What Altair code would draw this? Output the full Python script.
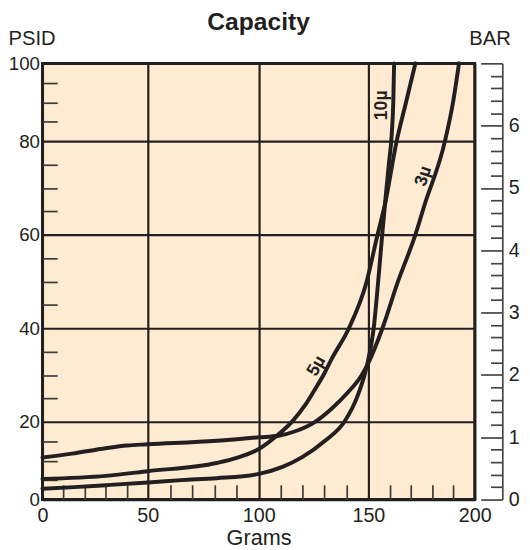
import altair as alt
import pandas as pd

INK = "#231f20"
BG = "#feebd1"
FONT = "Liberation Sans"

# ---- data ----
g_10 = [0, 15, 30, 50, 65, 81, 100, 110.8, 119.8, 130.2, 139.2, 145.2, 149, 152.5, 154.6, 156.5, 158.1, 159.6, 161.0, 161.7, 162.1]
p_10 = [2.8, 3.2, 3.7, 4.4, 5.0, 5.5, 6.6, 8.4, 10.9, 15.1, 20.1, 25.7, 31.4, 40, 50, 60, 68, 75, 82, 90, 100]

g_5 = [0, 30, 50, 81, 90, 100, 109, 115.3, 121.2, 125.7, 130.2, 133.2, 141.1, 149, 154.3, 157.8, 163.3, 167.7, 172.1]
p_5 = [5.3, 6.1, 7.3, 9.4, 10.7, 13.0, 16.8, 20.1, 23.6, 27, 30.6, 33.4, 40, 49.6, 60, 66.5, 80, 90, 100]

g_3 = [0, 14, 30, 40, 50, 81, 100, 109, 116.3, 125.7, 133.2, 140.7, 146.7, 150, 156.6, 163.6, 172.1, 176.5, 186, 189.8, 192.6]
p_3 = [10.8, 11.8, 13.2, 13.9, 14.2, 15.1, 16.0, 16.4, 17.5, 20, 22.8, 26.3, 29.8, 32.6, 40, 49.6, 60, 66.5, 80, 90, 100]

label_text = ["10µ", "3µ", "5µ"]
label_g = [156.5, 176.0, 126.4]
label_p = [89.2, 72.5, 31.9]
label_angle = [270, 288, 300]

x_major = [0, 50, 100, 150, 200]
y_major = [0, 20, 40, 60, 80, 100]
x_minor = [10, 20, 30, 40, 60, 70, 80, 90, 110, 120, 130, 140, 160, 170, 180, 190]
y_minor = [5, 10, 15, 25, 30, 35, 45, 50, 55, 65, 70, 75, 85, 90, 95]
bar_major = [0, 1, 2, 3, 4, 5, 6, 7]
bar_minor = [0.2, 0.4, 0.6, 0.8, 1.2, 1.4, 1.6, 1.8, 2.2, 2.4, 2.6, 2.8,
             3.2, 3.4, 3.6, 3.8, 4.2, 4.4, 4.6, 4.8, 5.2, 5.4, 5.6, 5.8,
             6.2, 6.4, 6.6, 6.8]

# ---- tables ----
curves_df = pd.concat([
    pd.DataFrame({"g": g_10, "p": p_10, "s": "10µ"}),
    pd.DataFrame({"g": g_5, "p": p_5, "s": "5µ"}),
    pd.DataFrame({"g": g_3, "p": p_3, "s": "3µ"}),
], ignore_index=True)
labels_df = pd.DataFrame({"g": label_g, "p": label_p, "t": label_text, "a": label_angle})
bar_df = pd.DataFrame({"b": bar_major})

W, H = 439, 443
xs = alt.Scale(domain=[0, 50, 100, 150, 200], range=[0, 107, 219.7, 331, W], nice=False, zero=False)
ys = alt.Scale(domain=[0, 20, 80, 100], range=[H, 364, 79, 0], nice=False, zero=False)
bs = alt.Scale(domain=[0, 7], range=[H, 0], nice=False, zero=False)

curves = alt.Chart(curves_df).mark_line(
    color=INK, strokeWidth=4, interpolate="monotone", strokeCap="round"
).encode(
    x=alt.X("g:Q", scale=xs, axis=alt.Axis(
        orient="bottom", values=x_major, grid=True, gridColor=INK, gridWidth=2.2, gridOpacity=1,
        ticks=False, domain=False, labelFontSize=20, labelPadding=6, labelFlush=False,
        title="Grams", titleFontSize=22, titleFontWeight="normal", titlePadding=3)),
    y=alt.Y("p:Q", scale=ys, axis=alt.Axis(
        orient="left", values=y_major, grid=True, gridColor=INK, gridWidth=2.2, gridOpacity=1,
        ticks=False, domain=False, labelFontSize=19, labelPadding=3, labelFlush=False,
        title="PSID", titleAngle=0, titleAlign="left", titleBaseline="alphabetic",
        titleX=-35, titleY=-19, titleFontSize=20.5, titleFontWeight="normal")),
    detail="s:N",
)

minor = alt.Chart(curves_df).mark_point(opacity=0).encode(
    x=alt.X("g:Q", scale=xs, axis=alt.Axis(
        orient="bottom", offset=-15, tickSize=15, values=x_minor, labels=False, domain=False,
        grid=False, tickColor="#3a3a3a", tickWidth=1.7, title=None)),
    y=alt.Y("p:Q", scale=ys, axis=alt.Axis(
        orient="left", offset=-15, tickSize=15, values=y_minor, labels=False, domain=False,
        grid=False, tickColor="#3a3a3a", tickWidth=1.7, title=None)),
)

labels = alt.Chart(labels_df).mark_text(
    font=FONT, fontWeight="bold", fontSize=18, color=INK, align="center", baseline="middle"
).encode(
    x=alt.X("g:Q", scale=xs, axis=None),
    y=alt.Y("p:Q", scale=ys, axis=None),
    text="t:N",
    angle=alt.Angle("a:Q", scale=None),
)

bar_major_layer = alt.Chart(bar_df).mark_point(opacity=0).encode(
    x=alt.value(0),
    y=alt.Y("b:Q", scale=bs, axis=alt.Axis(
        orient="right", offset=6, tickSize=22, tickWidth=1.7, tickColor="#444444",
        values=bar_major, labelExpr="datum.value == 7 ? '' : datum.label",
        labelPadding=6, labelFontSize=20, labelFlush=False, domain=False, grid=False,
        title="BAR", titleAngle=0, titleAlign="left", titleBaseline="alphabetic",
        titleX=-12, titleY=-19, titleFontSize=20.5, titleFontWeight="normal")),
)

bar_minor_layer = alt.Chart(bar_df).mark_point(opacity=0).encode(
    x=alt.value(0),
    y=alt.Y("b:Q", scale=bs, axis=alt.Axis(
        orient="right", offset=16, tickSize=12, tickWidth=1.7, tickColor="#444444",
        values=bar_minor, labels=False, domain=False, grid=False, title=None)),
)

bar_domain_layer = alt.Chart(bar_df).mark_point(opacity=0).encode(
    x=alt.value(0),
    y=alt.Y("b:Q", scale=bs, axis=alt.Axis(
        orient="right", offset=28, ticks=False, labels=False, domain=True,
        domainColor="#444444", domainWidth=1.7, grid=False, title=None)),
)

chart = alt.layer(
    curves, minor, labels, bar_major_layer, bar_minor_layer, bar_domain_layer
).resolve_scale(y="independent").resolve_axis(x="independent", y="independent").properties(
    width=W, height=H,
    padding={"left": 35, "top": 52, "right": 48, "bottom": 47},
    autosize=alt.AutoSizeParams(type="none"),
    title=alt.TitleParams("Capacity", fontSize=25, fontWeight="bold", font=FONT, color=INK,
                          anchor="middle", frame="group", offset=0, dy=26, baseline="alphabetic"),
).configure_view(
    fill=BG, stroke=INK, strokeWidth=3
).configure_axis(
    labelFont=FONT, titleFont=FONT, labelColor=INK, titleColor=INK
)

chart.save("out.html", embed_options={"renderer": "svg", "actions": False})
